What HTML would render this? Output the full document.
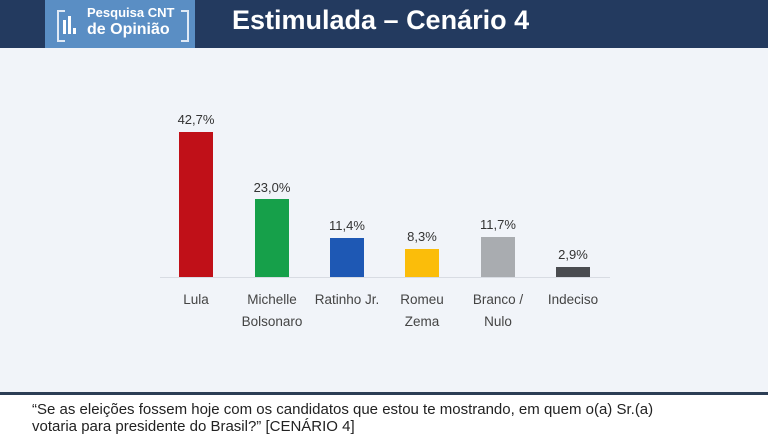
<!DOCTYPE html><html><head><style>
body{margin:0;width:768px;height:435px;overflow:hidden;background:#fff;font-family:"Liberation Sans",sans-serif;position:relative}
.hdr{position:absolute;left:0;top:0;width:768px;height:48px;background:#233a5f}
.logo{position:absolute;left:45px;top:0;width:150px;height:48px;background:#5a8ec4;color:#fff;font-weight:bold}
.ttl{position:absolute;left:232px;top:5px;color:#fff;font-weight:bold;font-size:27px}
.body{position:absolute;left:0;top:48px;width:768px;height:344px;background:#f1f4f9}
.line{position:absolute;left:0;top:392px;width:768px;height:3px;background:#2c3e55}
.bar{position:absolute;width:34px}
.v{position:absolute;width:60px;text-align:center;font-size:13px;color:#333}
.n{position:absolute;width:80px;text-align:center;font-size:13.5px;color:#444;line-height:22px}
.q{position:absolute;left:32px;top:401px;font-size:15px;color:#222;line-height:17px}
</style></head><body>
<div class="hdr"></div>
<div class="logo"><div style="position:absolute;left:12px;top:10px;width:6px;height:28px;border:2px solid #dfe9f5;border-right:none"></div>
<div style="position:absolute;left:18px;top:20px;width:3px;height:14px;background:#fff"></div><div style="position:absolute;left:23px;top:16px;width:3px;height:18px;background:#fff"></div><div style="position:absolute;left:28px;top:28px;width:3px;height:6px;background:#fff"></div>
<div style="position:absolute;left:42px;top:5px;font-size:13px">Pesquisa CNT</div><div style="position:absolute;left:42px;top:21px;font-size:16px">de Opinião</div>
<div style="position:absolute;right:6px;top:10px;width:6px;height:28px;border:2px solid #dfe9f5;border-left:none"></div></div>
<div class="ttl">Estimulada – Cenário 4</div>
<div class="body"></div>
<div style="position:absolute;left:160px;top:277px;width:450px;height:1px;background:#d8dce3"></div>
<div class="bar" style="left:179px;top:132px;height:145px;background:#c01018"></div>
<div class="bar" style="left:255px;top:199px;height:78px;background:#16a04a"></div>
<div class="bar" style="left:330px;top:238px;height:39px;background:#1e58b4"></div>
<div class="bar" style="left:405px;top:249px;height:28px;background:#fbbd0a"></div>
<div class="bar" style="left:481px;top:237px;height:40px;background:#a9acb0"></div>
<div class="bar" style="left:556px;top:267px;height:10px;background:#4a4c50"></div>
<div class="v" style="left:166px;top:112px">42,7%</div>
<div class="v" style="left:242px;top:180px">23,0%</div>
<div class="v" style="left:317px;top:218px">11,4%</div>
<div class="v" style="left:392px;top:229px">8,3%</div>
<div class="v" style="left:468px;top:217px">11,7%</div>
<div class="v" style="left:543px;top:247px">2,9%</div>
<div class="n" style="left:156px;top:289px">Lula</div>
<div class="n" style="left:232px;top:289px">Michelle<br>Bolsonaro</div>
<div class="n" style="left:307px;top:289px">Ratinho Jr.</div>
<div class="n" style="left:382px;top:289px">Romeu<br>Zema</div>
<div class="n" style="left:458px;top:289px">Branco /<br>Nulo</div>
<div class="n" style="left:533px;top:289px">Indeciso</div>
<div class="line"></div>
<div class="q">“Se as eleições fossem hoje com os candidatos que estou te mostrando, em quem o(a) Sr.(a)<br>votaria para presidente do Brasil?” [CENÁRIO 4]</div>
</body></html>
